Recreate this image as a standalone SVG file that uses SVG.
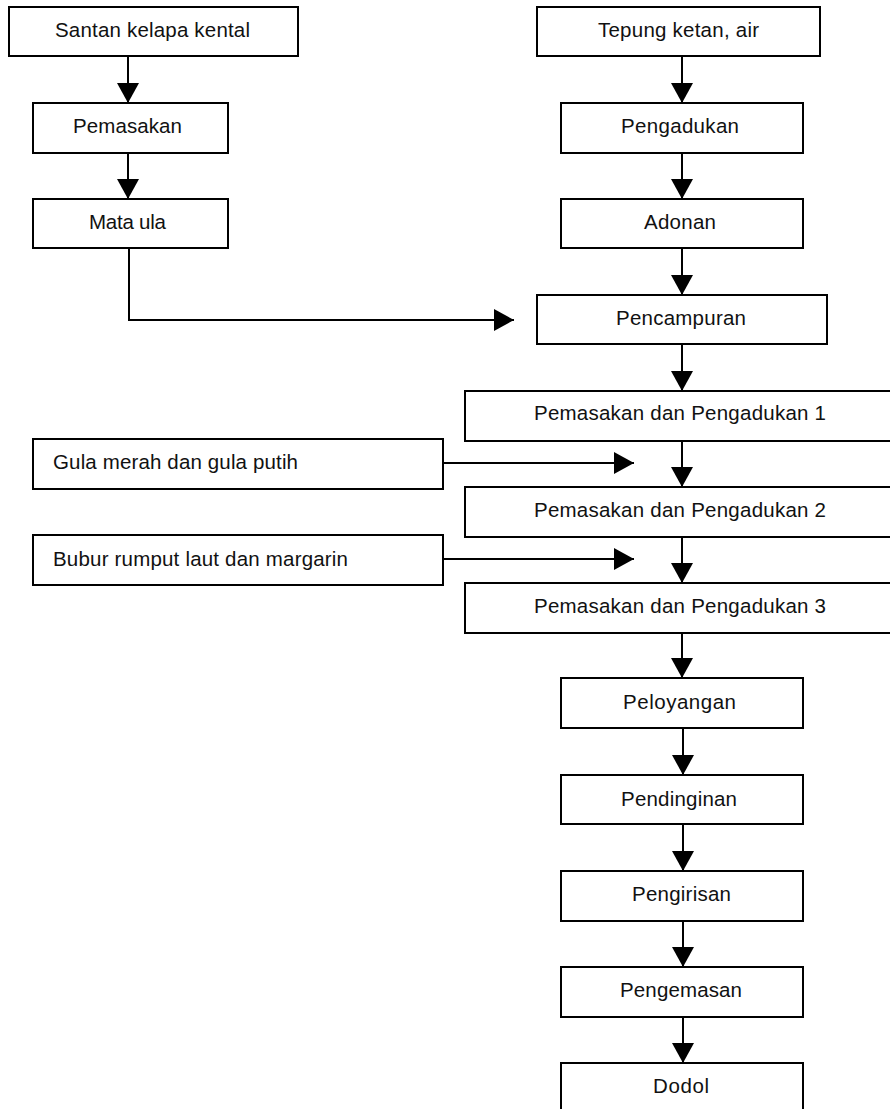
<svg xmlns="http://www.w3.org/2000/svg" width="890" height="1109" viewBox="0 0 890 1109">
<style>
.box{fill:#fff;stroke:#000;stroke-width:2}
.t{font-family:"Liberation Sans",Arial,sans-serif;font-size:20.5px;fill:#111;text-anchor:middle}
.tl{text-anchor:start}
.c{fill:none;stroke:#000;stroke-width:2}
</style>
<defs>
<marker id="ah" viewBox="0 0 20 22" refX="20" refY="11" markerWidth="20" markerHeight="22" orient="auto" markerUnits="userSpaceOnUse">
<path d="M0,0 L20,11 L0,22 Z" fill="#000"/>
</marker>
</defs>
<rect width="890" height="1109" fill="#fff"/>
<g id="connectors" class="c" marker-end="url(#ah)">
<line x1="128" y1="56" x2="128" y2="103"/>
<line x1="128" y1="153" x2="128" y2="199"/>
<polyline points="129,248 129,320 514,320"/>
<line x1="682" y1="56" x2="682" y2="103"/>
<line x1="682" y1="153" x2="682" y2="199"/>
<line x1="682" y1="248" x2="682" y2="295"/>
<line x1="682" y1="344" x2="682" y2="391"/>
<line x1="682" y1="439" x2="682" y2="487"/>
<line x1="682" y1="535" x2="682" y2="583"/>
<line x1="682" y1="633" x2="682" y2="678"/>
<line x1="683" y1="728" x2="683" y2="775"/>
<line x1="683" y1="824" x2="683" y2="871"/>
<line x1="683" y1="921" x2="683" y2="967"/>
<line x1="683" y1="1017" x2="683" y2="1063"/>
<line x1="440" y1="463" x2="634" y2="463"/>
<line x1="440" y1="559" x2="634" y2="559"/>
</g>
<g id="santan"><rect class="box" x="9" y="7" width="289" height="49"/><text class="t" x="152.5" y="37" textLength="195" lengthAdjust="spacing">Santan kelapa kental</text></g>
<g id="pemasakan"><rect class="box" x="33" y="103" width="195" height="50"/><text class="t" x="127.5" y="133" textLength="109" lengthAdjust="spacing">Pemasakan</text></g>
<g id="mataula"><rect class="box" x="33" y="199" width="195" height="49"/><text class="t" x="127.5" y="229" textLength="77" lengthAdjust="spacing">Mata ula</text></g>
<g id="tepung"><rect class="box" x="537" y="7" width="283" height="49"/><text class="t" x="678.5" y="37" textLength="161" lengthAdjust="spacing">Tepung ketan, air</text></g>
<g id="pengadukan"><rect class="box" x="561" y="103" width="242" height="50"/><text class="t" x="680" y="133" textLength="118" lengthAdjust="spacing">Pengadukan</text></g>
<g id="adonan"><rect class="box" x="561" y="199" width="242" height="49"/><text class="t" x="680" y="229" textLength="72" lengthAdjust="spacing">Adonan</text></g>
<g id="pencampuran"><rect class="box" x="537" y="295" width="290" height="49"/><text class="t" x="681" y="325" textLength="130" lengthAdjust="spacing">Pencampuran</text></g>
<g id="pd1"><rect class="box" x="465" y="391" width="432" height="50"/><text class="t" x="680" y="420" textLength="292" lengthAdjust="spacing">Pemasakan dan Pengadukan 1</text></g>
<g id="gula"><rect class="box" x="33" y="439" width="410" height="50"/><text class="t tl" x="53" y="469" textLength="245" lengthAdjust="spacing">Gula merah dan gula putih</text></g>
<g id="pd2"><rect class="box" x="465" y="487" width="432" height="50"/><text class="t" x="680" y="517" textLength="292" lengthAdjust="spacing">Pemasakan dan Pengadukan 2</text></g>
<g id="bubur"><rect class="box" x="33" y="535" width="410" height="50"/><text class="t tl" x="53" y="566" textLength="295" lengthAdjust="spacing">Bubur rumput laut dan margarin</text></g>
<g id="pd3"><rect class="box" x="465" y="583" width="432" height="50"/><text class="t" x="680" y="613" textLength="292" lengthAdjust="spacing">Pemasakan dan Pengadukan 3</text></g>
<g id="peloyangan"><rect class="box" x="561" y="678" width="242" height="50"/><text class="t" x="679.5" y="709" textLength="113" lengthAdjust="spacing">Peloyangan</text></g>
<g id="pendinginan"><rect class="box" x="561" y="775" width="242" height="49"/><text class="t" x="679" y="806" textLength="116" lengthAdjust="spacing">Pendinginan</text></g>
<g id="pengirisan"><rect class="box" x="561" y="871" width="242" height="50"/><text class="t" x="681.5" y="901" textLength="99" lengthAdjust="spacing">Pengirisan</text></g>
<g id="pengemasan"><rect class="box" x="561" y="967" width="242" height="50"/><text class="t" x="681" y="997" textLength="122" lengthAdjust="spacing">Pengemasan</text></g>
<g id="dodol"><rect class="box" x="561" y="1063" width="242" height="50"/><text class="t" x="681" y="1093" textLength="56" lengthAdjust="spacing">Dodol</text></g>
</svg>
